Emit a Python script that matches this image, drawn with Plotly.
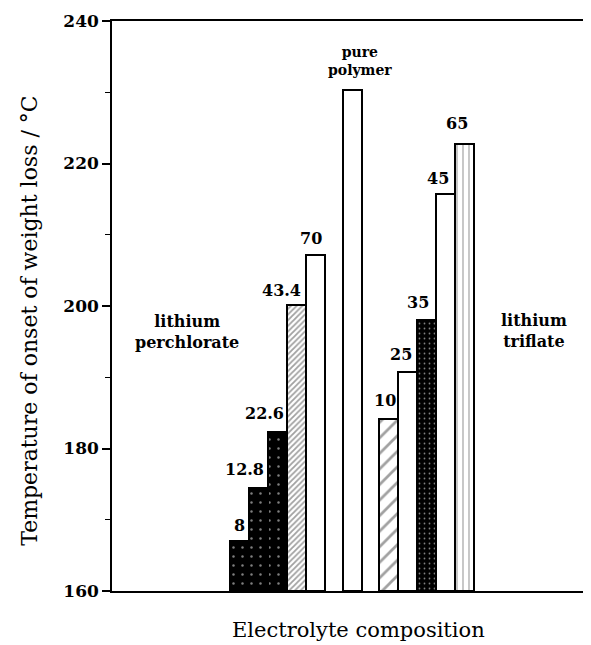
import plotly.graph_objects as go

# ---- data ----
perchlorate_labels = ["8", "12.8", "22.6", "43.4", "70"]
perchlorate_values = [167.0, 174.4, 182.3, 200.2, 207.2]
pure_label = "pure<br>polymer"
pure_values = [230.3]
triflate_labels = ["10", "25", "35", "45", "65"]
triflate_values = [184.1, 190.7, 198.1, 215.7, 222.7]
y_ticks = [160, 180, 200, 220, 240]

# ---- layout constants (page body has an 8px margin) ----
W, H = 583, 637
ML, MR, MT, MB = 104, 3, 11, 54
group_start = {"perchlorate": 0.0, "pure": 5.95, "triflate": 7.85}
x_range = [-6.71, 18.34]

SERIF = "DejaVu Serif"

bars = []  # (x, value, label)
for i, (lab, v) in enumerate(zip(perchlorate_labels, perchlorate_values)):
    bars.append((group_start["perchlorate"] + i, v, lab))
bars.append((group_start["pure"], pure_values[0], pure_label))
for i, (lab, v) in enumerate(zip(triflate_labels, triflate_values)):
    bars.append((group_start["triflate"] + i, v, lab))

xs = [b[0] for b in bars]
ys = [b[1] for b in bars]

# per-bar fill styles (in bar order)
colors =   ["black", "black", "black", "white", "white", "white", "white", "white", "black", "white", "white"]
shapes =   [".", ".", ".", "/", "", "", "/", "", ".", "", "|"]
fgcols =   ["white", "white", "white", "#111", "black", "black", "black", "black", "white", "black", "black"]
bgcols =   ["black", "black", "black", "white", "white", "white", "white", "white", "black", "white", "white"]
psizes =   [9, 9, 9, 4, 8, 8, 11, 8, 5, 8, 6]
psolid =   [0.06, 0.06, 0.06, 0.45, 0.2, 0.2, 0.25, 0.2, 0.1, 0.2, 0.2]

fig = go.Figure()
fig.add_trace(go.Bar(
    x=xs, y=[v - 160 for v in ys], base=160, width=1.0,
    marker=dict(
        color=colors,
        line=dict(color="black", width=2),
        pattern=dict(shape=shapes, fgcolor=fgcols, bgcolor=bgcols,
                     size=psizes, solidity=psolid, fillmode="overlay"),
    ),
    hoverinfo="skip", showlegend=False,
))

# label offsets in pixels (dx, dy up from bar top)
offsets = [(0, 16), (-14.5, 19), (-13.5, 19), (-15.5, 14), (-4.5, 16),
           (7.5, 29.5),
           (-3.5, 19), (-6.5, 18), (-8.5, 17), (-7.5, 16), (-8, 21)]

annotations = []
for (x, v, lab), (dx, dy) in zip(bars, offsets):
    is_pure = lab == pure_label
    annotations.append(dict(
        x=x, y=v, xref="x", yref="y", text=lab, showarrow=False,
        xanchor="center", yanchor="middle", xshift=dx, yshift=dy,
        font=dict(family=SERIF, size=14 if is_pure else 16, color="black",
                  weight="bold"),
    ))

# group labels
annotations.append(dict(x=0.158, y=0.455, xref="paper", yref="paper",
                        text="lithium<br>perchlorate", showarrow=False,
                        xanchor="center", yanchor="middle",
                        font=dict(family=SERIF, size=16, color="black", weight="bold")))
annotations.append(dict(x=0.887, y=0.457, xref="paper", yref="paper",
                        text="lithium<br>triflate", showarrow=False,
                        xanchor="center", yanchor="middle",
                        font=dict(family=SERIF, size=16, color="black", weight="bold")))

# axis titles
annotations.append(dict(x=0, y=0.474, xref="paper", yref="paper", xshift=-82,
                        text="Temperature of onset of weight loss / °C",
                        textangle=-90, showarrow=False,
                        xanchor="center", yanchor="middle",
                        font=dict(family=SERIF, size=22, color="black")))
annotations.append(dict(x=0.517, y=0, xref="paper", yref="paper", yshift=-39,
                        text="Electrolyte composition", showarrow=False,
                        xanchor="center", yanchor="middle",
                        font=dict(family=SERIF, size=21, color="black")))

fig.update_layout(
    width=W, height=H,
    margin=dict(l=ML, r=MR, t=MT, b=MB),
    paper_bgcolor="white", plot_bgcolor="white",
    bargap=0,
    annotations=annotations,
    xaxis=dict(range=x_range, showgrid=False, zeroline=False,
               showticklabels=False, ticks="", showline=True,
               linecolor="black", linewidth=2, mirror=True),
    yaxis=dict(range=[160, 240], tickvals=y_ticks,
               ticktext=[str(t) for t in y_ticks],
               showgrid=False, zeroline=False, showline=True,
               linecolor="black", linewidth=1.5,
               ticks="outside", ticklen=8, tickwidth=1.5, tickcolor="black",
               minor=dict(dtick=10, ticks="outside", ticklen=5,
                          tickwidth=1.2, tickcolor="black"),
               tickfont=dict(family=SERIF, size=17, color="black", weight="bold")),
)

fig.write_html("out.html")
